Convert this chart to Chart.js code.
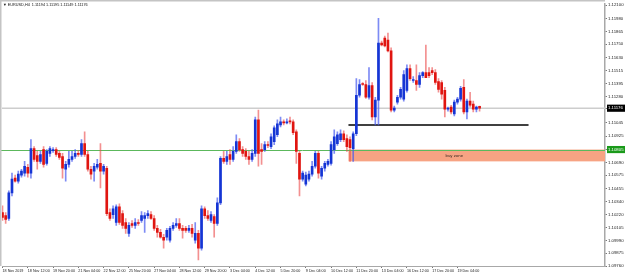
<!DOCTYPE html>
<html><head><meta charset="utf-8">
<script src="https://cdn.jsdelivr.net/npm/chart.js@4"></script>
<style>html,body{margin:0;padding:0;background:#fff;overflow:hidden}canvas{display:block}</style>
</head><body>
<canvas id="c" width="625" height="276"></canvas>
<script>
const titleText = '\u25BC EURUSD,H4  1.11194 1.11195 1.11149 1.11176';
const xLabels = ['18 Nov 2019','18 Nov 12:00','19 Nov 20:00','21 Nov 04:00','22 Nov 12:00','25 Nov 20:00','27 Nov 04:00','28 Nov 12:00','29 Nov 20:00','3 Dec 04:00','4 Dec 12:00','5 Dec 20:00','9 Dec 04:00','10 Dec 12:00','11 Dec 20:00','13 Dec 04:00','16 Dec 12:00','17 Dec 20:00','19 Dec 04:00'];
const barsPerLabel = 8;
const yTicks = [1.12100,1.11980,1.11865,1.11750,1.11630,1.11515,1.11395,1.11280,1.11045,1.10925,1.10690,1.10575,1.10455,1.10340,1.10220,1.10105,1.09990,1.09875,1.09760];
const currentPrice = 1.11176;
const greenLevel = 1.10805;
const blackLevel = 1.11026;
const zoneTop = 1.10805, zoneBottom = 1.10699;
const zoneStartBar = 109.5, blackLineEndBar = 166.5, zoneLabelBar = 143;
const zoneLabel = 'buy zone';

const open = [1.10239,1.10212,1.10186,1.10416,1.10549,1.10522,1.10575,1.10593,1.10646,1.10593,
1.10814,1.10752,1.10699,1.10805,1.10681,1.10770,1.10796,1.10805,1.10770,1.10743,
1.10628,1.10672,1.10717,1.10743,1.10770,1.10761,1.10858,1.10761,1.10628,1.10611,
1.10646,1.10681,1.10611,1.10637,1.10239,1.10221,1.10150,1.10292,1.10230,1.10150,
1.10053,1.10141,1.10124,1.10150,1.10168,1.10186,1.10212,1.10221,1.10186,1.10097,
1.10062,1.10018,1.10018,1.09991,1.10097,1.10124,1.10141,1.10097,1.10097,1.10080,
1.10097,1.09991,1.10053,1.09920,1.10274,1.10212,1.10168,1.10203,1.10141,1.10327,
1.10726,1.10699,1.10761,1.10717,1.10788,1.10876,1.10805,1.10788,1.10743,1.10717,
1.10770,1.11071,1.10805,1.10805,1.10849,1.10832,1.10876,1.10938,1.11026,1.11053,
1.11044,1.11062,1.11053,1.10965,1.10770,1.10540,1.10495,1.10540,1.10584,1.10655,
1.10770,1.10566,1.10637,1.10672,1.10681,1.10805,1.10858,1.10894,1.10947,1.10903,
1.10894,1.10814,1.10947,1.11292,1.11398,1.11389,1.11274,1.11380,1.11097,1.11248,
1.11761,1.11805,1.11788,1.11690,1.11159,1.11230,1.11274,1.11257,1.11336,1.11531,
1.11425,1.11425,1.11389,1.11469,1.11496,1.11496,1.11513,1.11496,1.11416,1.11407,
1.11336,1.11168,1.11186,1.11124,1.11230,1.11257,1.11363,1.11142,1.11239,1.11212,
1.11168,1.11194];
const high = [1.10301,1.10239,1.10434,1.10593,1.10575,1.10611,1.10628,1.10699,1.10672,1.10894,
1.10832,1.10788,1.10788,1.10832,1.10805,1.10832,1.10823,1.10823,1.10788,1.10770,
1.10699,1.10788,1.10788,1.10805,1.10796,1.10894,1.10965,1.10788,1.10655,1.10681,
1.10717,1.10858,1.10672,1.10655,1.10274,1.10301,1.10310,1.10318,1.10257,1.10186,
1.10150,1.10168,1.10186,1.10177,1.10248,1.10239,1.10257,1.10248,1.10212,1.10124,
1.10088,1.10044,1.10097,1.10115,1.10150,1.10186,1.10186,1.10124,1.10115,1.10124,
1.10133,1.10150,1.10080,1.10301,1.10292,1.10257,1.10248,1.10221,1.10372,1.10743,
1.10788,1.10788,1.10805,1.10832,1.10938,1.10903,1.10832,1.10814,1.10788,1.10805,
1.11097,1.11159,1.10858,1.10876,1.10876,1.10947,1.11018,1.11071,1.11097,1.11071,
1.11080,1.11097,1.11071,1.10982,1.10788,1.10611,1.10602,1.10611,1.10699,1.10788,
1.10788,1.10655,1.10699,1.10717,1.10876,1.10982,1.10965,1.10982,1.10973,1.10938,
1.10920,1.10965,1.11442,1.11434,1.11407,1.11425,1.11540,1.11407,1.11274,1.11982,
1.11779,1.11823,1.11850,1.11717,1.11195,1.11292,1.11363,1.11513,1.11566,1.11566,
1.11460,1.11566,1.11496,1.11504,1.11743,1.11540,1.11540,1.11522,1.11442,1.11425,
1.11363,1.11186,1.11203,1.11248,1.11274,1.11372,1.11434,1.11257,1.11319,1.11239,
1.11195,1.11195];
const low = [1.10168,1.10141,1.10168,1.10389,1.10513,1.10504,1.10557,1.10566,1.10557,1.10549,
1.10699,1.10628,1.10681,1.10646,1.10664,1.10743,1.10779,1.10743,1.10717,1.10549,
1.10522,1.10646,1.10699,1.10726,1.10743,1.10743,1.10743,1.10611,1.10540,1.10522,
1.10628,1.10460,1.10584,1.10212,1.10168,1.10186,1.10124,1.10133,1.10097,1.10053,
1.10026,1.10106,1.10097,1.10124,1.10150,1.10062,1.10186,1.10177,1.10080,1.10018,
1.10009,1.09920,1.09991,1.09973,1.10080,1.10106,1.10080,1.10009,1.10062,1.10062,
1.10018,1.09964,1.09814,1.09903,1.10186,1.10168,1.10150,1.10018,1.10124,1.10310,
1.10681,1.10672,1.10672,1.10699,1.10770,1.10788,1.10743,1.10717,1.10672,1.10699,
1.10743,1.10655,1.10672,1.10788,1.10823,1.10814,1.10849,1.10920,1.11009,1.11026,
1.11035,1.11035,1.10938,1.10681,1.10389,1.10522,1.10478,1.10522,1.10566,1.10637,
1.10549,1.10540,1.10611,1.10655,1.10664,1.10770,1.10841,1.10876,1.10876,1.10788,
1.10699,1.10699,1.10929,1.11274,1.11380,1.11265,1.11257,1.11071,1.11026,1.11026,
1.11734,1.11726,1.11681,1.11142,1.11142,1.11212,1.11257,1.11239,1.11319,1.11425,
1.11407,1.11336,1.11363,1.11451,1.11451,1.11451,1.11478,1.11389,1.11319,1.11257,
1.11097,1.11150,1.11124,1.11106,1.11212,1.11239,1.11124,1.11080,1.11186,1.11142,
1.11142,1.11149];
const close = [1.10195,1.10177,1.10416,1.10540,1.10522,1.10584,1.10611,1.10655,1.10593,1.10814,
1.10717,1.10699,1.10761,1.10672,1.10788,1.10814,1.10805,1.10761,1.10734,1.10637,
1.10672,1.10717,1.10743,1.10770,1.10761,1.10858,1.10761,1.10628,1.10584,1.10655,
1.10672,1.10611,1.10655,1.10230,1.10186,1.10274,1.10292,1.10150,1.10124,1.10097,
1.10124,1.10124,1.10150,1.10141,1.10212,1.10212,1.10230,1.10186,1.10097,1.10062,
1.10018,1.09991,1.10080,1.10097,1.10124,1.10141,1.10097,1.10080,1.10080,1.10097,
1.10053,1.10053,1.09920,1.10274,1.10212,1.10186,1.10221,1.10141,1.10327,1.10726,
1.10699,1.10743,1.10717,1.10788,1.10876,1.10805,1.10770,1.10743,1.10717,1.10770,
1.11071,1.10770,1.10788,1.10849,1.10841,1.10920,1.11000,1.11035,1.11053,1.11044,
1.11053,1.11053,1.10956,1.10788,1.10540,1.10593,1.10575,1.10584,1.10655,1.10770,
1.10593,1.10637,1.10681,1.10699,1.10849,1.10920,1.10938,1.10947,1.10894,1.10832,
1.10823,1.10947,1.11292,1.11389,1.11389,1.11274,1.11380,1.11097,1.11248,1.11761,
1.11743,1.11734,1.11690,1.11159,1.11177,1.11274,1.11345,1.11478,1.11531,1.11442,
1.11434,1.11389,1.11469,1.11496,1.11451,1.11469,1.11496,1.11407,1.11345,1.11301,
1.11168,1.11177,1.11142,1.11230,1.11257,1.11354,1.11142,1.11239,1.11203,1.11168,
1.11186,1.11176];

const yMin = 1.09760, yMax = 1.12115, xMin = -0.16, xMax = 190.7;

const idx = open.map((_, i) => i);
const isUp = i => close[i] >= open[i];
const bodies = idx.map(i => ({x: i, y: [open[i], close[i]]}));
const wicks = idx.map(i => ({x: i, y: [low[i], high[i]]}));
const allYTicks = yTicks.concat([currentPrice, greenLevel]).sort((a, b) => b - a);
const FONT = 'Liberation Sans';

const overlay = {
  id: 'overlay',
  beforeDatasetsDraw(chart) {
    const {ctx, chartArea: a, scales: {x, y}} = chart;
    ctx.save();
    const zx = x.getPixelForValue(zoneStartBar);
    const zt = y.getPixelForValue(zoneTop), zb = y.getPixelForValue(zoneBottom);
    ctx.fillStyle = '#f7a383';
    ctx.fillRect(zx, zt, a.right - zx, zb - zt);
    ctx.fillStyle = '#3b2a22';
    ctx.font = '4.3px "' + FONT + '"';
    ctx.textAlign = 'center';
    ctx.textBaseline = 'middle';
    ctx.fillText(zoneLabel, x.getPixelForValue(zoneLabelBar), (zt + zb) / 2 + 0.5);
    ctx.strokeStyle = '#cdcdcd';
    ctx.lineWidth = 1.5;
    let py = y.getPixelForValue(currentPrice);
    ctx.beginPath(); ctx.moveTo(a.left, py); ctx.lineTo(a.right, py); ctx.stroke();
    ctx.strokeStyle = '#5cb85c';
    ctx.lineWidth = 1;
    py = Math.round(y.getPixelForValue(greenLevel)) + 0.5;
    ctx.beginPath(); ctx.moveTo(0, py); ctx.lineTo(a.right, py); ctx.stroke();
    ctx.strokeStyle = '#000';
    ctx.lineWidth = 1.6;
    py = y.getPixelForValue(blackLevel);
    ctx.beginPath(); ctx.moveTo(zx, py); ctx.lineTo(x.getPixelForValue(blackLineEndBar), py); ctx.stroke();
    ctx.restore();
  },
  afterDraw(chart) {
    const {ctx, chartArea: a} = chart;
    ctx.save();
    ctx.fillStyle = '#c4c4c4';
    ctx.fillRect(0, 0, a.right, 1.5);
    ctx.fillRect(0, 0, 1.5, a.bottom);
    ctx.fillStyle = '#111';
    ctx.font = '3.8px "' + FONT + '"';
    ctx.textAlign = 'left';
    ctx.textBaseline = 'middle';
    ctx.fillText(titleText, 3, 5);
    ctx.restore();
  }
};

new Chart(document.getElementById('c'), {
  type: 'bar',
  data: {
    datasets: [
      {data: bodies, grouped: false, barThickness: 2, minBarLength: 1, order: 0,
       backgroundColor: c => isUp(c.dataIndex) ? '#1535d4' : '#e01510'},
      {data: wicks, grouped: false, barThickness: 1, order: 1,
       backgroundColor: c => isUp(c.dataIndex) ? 'rgba(70,90,240,0.7)' : 'rgba(235,70,70,0.6)'}
    ]
  },
  options: {
    responsive: false, animation: false, devicePixelRatio: 1,
    layout: {padding: {left: 2, top: 0, right: 0, bottom: 0}},
    plugins: {legend: {display: false}, tooltip: {enabled: false}, title: {display: false}},
    scales: {
      x: {
        type: 'linear', min: xMin, max: xMax, offset: false,
        grid: {display: true, drawOnChartArea: false, tickLength: 2, color: '#777', offset: false},
        border: {color: '#a8a8a8', width: 1},
        afterBuildTicks: s => { s.ticks = xLabels.map((_, k) => ({value: k * barsPerLabel})); },
        afterFit: s => { s.height = 10; },
        ticks: {autoSkip: false, maxRotation: 0, minRotation: 0, align: 'start', padding: 0.5,
          font: {family: FONT, size: 3.7}, color: '#222',
          callback: (v, k) => xLabels[k]}
      },
      y: {
        position: 'right', min: yMin, max: yMax,
        grid: {display: true, drawOnChartArea: false, tickLength: 2, color: '#777'},
        border: {color: '#a8a8a8', width: 1.5},
        afterBuildTicks: s => { s.ticks = allYTicks.map(v => ({value: v})); },
        afterFit: s => { s.width = 20; },
        ticks: {autoSkip: false, padding: 1,
          font: {family: FONT, size: 4.3},
          color: c => (c.tick && (c.tick.value === currentPrice || c.tick.value === greenLevel)) ? '#fff' : '#222',
          showLabelBackdrop: c => !!(c.tick && (c.tick.value === currentPrice || c.tick.value === greenLevel)),
          backdropColor: c => (c.tick && c.tick.value === currentPrice) ? '#000' : '#1a9a1a',
          backdropPadding: {left: 1, right: 4, top: 1, bottom: 1},
          callback: v => v.toFixed(5)}
      }
    }
  },
  plugins: [overlay]
});
</script>
</body></html>
